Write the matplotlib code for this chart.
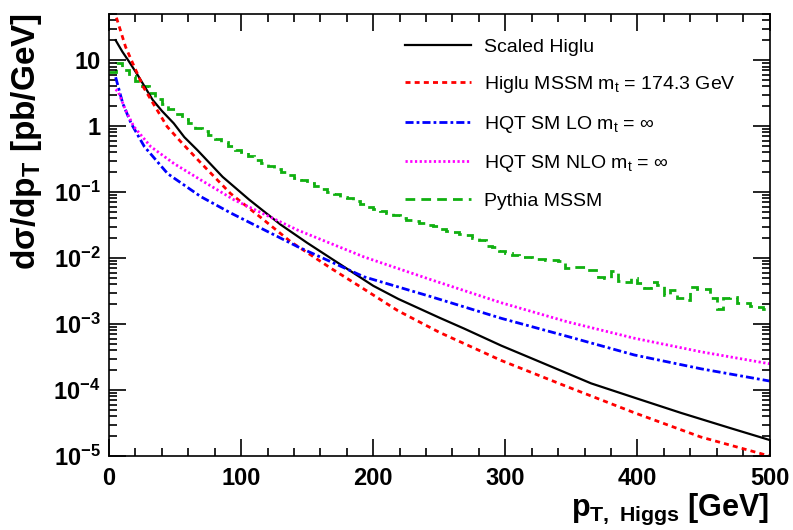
'''pT spectrum of the Higgs: Higlu / HQT / Pythia comparison'''

import matplotlib
matplotlib.use('Agg')
import matplotlib.pyplot as plt
import numpy as np
from matplotlib.ticker import FixedLocator, FixedFormatter, LogLocator, MultipleLocator, NullFormatter

plt.rcParams['font.family'] = ['Liberation Sans', 'DejaVu Sans']
plt.rcParams['mathtext.fontset'] = 'custom'
plt.rcParams['mathtext.rm'] = 'Liberation Sans:bold'
plt.rcParams['mathtext.it'] = 'Liberation Sans:bold'
plt.rcParams['mathtext.bf'] = 'Liberation Sans:bold'

# Scaled Higlu (black solid)
higlu_pt = [5, 10, 15, 22, 33, 40, 49, 57, 67, 86, 106, 130, 150, 176, 200, 219,
            250, 269, 297, 322, 365, 400, 433, 470, 500]
higlu_val = [20, 13.5, 9.6, 5.8, 2.5, 1.7, 1.1, 0.68, 0.43, 0.17, 0.077, 0.032, 0.017,
             0.0078, 0.0038, 0.0024, 0.00125, 0.00085, 0.00047, 0.00029, 0.000126,
             0.000074, 0.000045, 0.0000266, 0.0000175]

# Higlu MSSM mt = 174.3 GeV (red dashed)
mssm_pt = [4, 5, 8, 12.5, 18, 26, 35, 44, 55, 70, 92, 115, 137.5, 168, 190, 218.5,
           250, 297, 347, 398, 448, 500]
mssm_val = [60, 48, 31, 15.9, 8.9, 3.9, 1.95, 0.98, 0.56, 0.27, 0.095, 0.041, 0.0177,
            0.007, 0.0037, 0.0016, 0.00075, 0.00028, 0.000112, 0.000045, 0.0000194,
            0.0000100]

# HQT SM LO (blue dash-dot)
lo_pt = [5, 10.4, 16.7, 26.7, 44.4, 69.6, 92.3, 142.7, 193, 243.7, 297, 347, 397.6, 448, 500]
lo_val = [5.5, 2.2, 1.1, 0.49, 0.19, 0.085, 0.048, 0.0149, 0.0052, 0.0026, 0.00122,
          0.00065, 0.00034, 0.00021, 0.000137]

# HQT SM NLO (magenta dotted)
nlo_pt = [5, 7, 12.5, 18.8, 31.5, 49.2, 69.6, 94.8, 142.7, 193, 243.7, 297, 347, 397.6,
          448, 500]
nlo_val = [3.6, 3.3, 1.75, 0.98, 0.49, 0.27, 0.152, 0.076, 0.0266, 0.0104, 0.0047,
           0.0021, 0.00108, 0.00061, 0.00038, 0.00025]

# Pythia MSSM histogram (green dashed), 5 GeV bins
pythia_edges = np.arange(0, 505, 5)
pythia_val = [6.5, 9.0, 7.0, 5.8, 4.8, 4.0, 3.2, 2.6, 2.2, 1.8,
              1.5, 1.3, 1.1, 0.95, 0.83, 0.73, 0.64, 0.57, 0.50, 0.44,
              0.40, 0.35, 0.31, 0.28, 0.25, 0.22, 0.20, 0.18, 0.165, 0.15,
              0.135, 0.125, 0.11, 0.10, 0.095, 0.085, 0.08, 0.072, 0.066, 0.060,
              0.056, 0.052, 0.049, 0.045, 0.040, 0.038, 0.036, 0.034, 0.032, 0.031,
              0.028, 0.026, 0.025, 0.023, 0.022, 0.020, 0.0187, 0.015, 0.0145, 0.013,
              0.0118, 0.011, 0.0104, 0.0102, 0.0098, 0.0096, 0.0095, 0.0095, 0.0090, 0.0070,
              0.0072, 0.0074, 0.0066, 0.0067, 0.0052, 0.0050, 0.0064, 0.0045, 0.0044, 0.0050,
              0.0042, 0.0035, 0.0044, 0.0039, 0.0028, 0.0033, 0.0025, 0.0023, 0.0037, 0.0034,
              0.0034, 0.0025, 0.0017, 0.0025, 0.0026, 0.0021, 0.0021, 0.00186, 0.0018, 0.0017]

labels = ['Scaled Higlu',
          'Higlu MSSM m$_{\\mathregular{t}}$ = 174.3 GeV',
          'HQT SM LO m$_{\\mathregular{t}}$ = \u221e',
          'HQT SM NLO m$_{\\mathregular{t}}$ = \u221e',
          'Pythia MSSM']

fig = plt.figure(figsize=(7.93, 5.30), dpi=100)
ax = fig.add_axes([0.1375, 0.1396, 0.8329, 0.834])

ax.plot(higlu_pt, higlu_val, color='black', lw=1.6, label=labels[0])
ax.plot(mssm_pt, mssm_val, color='#ff0000', lw=2, dashes=(1.8, 1.5), label=labels[1])
ax.plot(lo_pt, lo_val, color='#0000ff', lw=2, dashes=(2.9, 1.1, 1.0, 1.1), label=labels[2])
ax.plot(nlo_pt, nlo_val, color='#ff00ff', lw=2, dashes=(0.8, 0.9), label=labels[3])
ax.stairs(pythia_val, pythia_edges, baseline=None, color='#10b010', lw=2,
          linestyle=(0, (3.5, 2.2)), label=labels[4])

ax.set_yscale('log')
ax.set_xlim(0, 500)
ax.set_ylim(1e-5, 50)

ax.xaxis.set_major_locator(MultipleLocator(100))
ax.xaxis.set_minor_locator(MultipleLocator(20))
yt = [1e-5, 1e-4, 1e-3, 1e-2, 1e-1, 1, 10]
ax.yaxis.set_major_locator(FixedLocator(yt))
ax.yaxis.set_major_formatter(FixedFormatter(['$10^{-5}$', '$10^{-4}$', '$10^{-3}$',
                                             '$10^{-2}$', '$10^{-1}$', '1', '10']))
ax.yaxis.set_minor_locator(LogLocator(base=10, subs=np.arange(2, 10), numticks=20))
ax.yaxis.set_minor_formatter(NullFormatter())

ax.tick_params(which='both', direction='in', top=True, right=True, width=1.2)
ax.tick_params(which='major', length=12)
ax.tick_params(which='minor', length=6)
ax.tick_params(axis='x', which='major', pad=8)
ax.tick_params(axis='y', which='major', pad=6)
for lab in ax.get_xticklabels() + ax.get_yticklabels():
    lab.set_fontsize(17)
    lab.set_fontweight('bold')
for sp in ax.spines.values():
    sp.set_linewidth(1.2)

ax.set_xlabel('p$_{\\mathregular{T,\\ Higgs}}$ [GeV]', fontsize=22, fontweight='bold',
              loc='right')
ax.xaxis.set_label_coords(1.0, -0.082)
ax.set_ylabel('d\u03c3/dp$_{\\mathregular{T}}$ [pb/GeV]', fontsize=24, fontweight='bold',
              loc='top')
ax.yaxis.set_label_coords(-0.099, 1.002)

ax.legend(loc='upper left', bbox_to_anchor=(0.422, 0.985), frameon=False, fontsize=14,
          handlelength=3.4, handletextpad=0.65, labelspacing=0.95)

fig.savefig('out.png', dpi=100)
